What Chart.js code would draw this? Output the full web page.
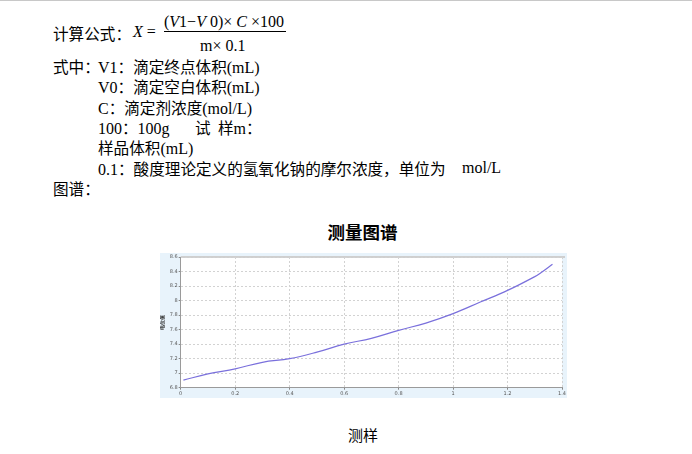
<!DOCTYPE html>
<html>
<head>
<meta charset="utf-8">
<script src="https://cdn.jsdelivr.net/npm/chart.js"></script>
<style>
  body { margin: 0; width: 692px; height: 454px; background: #fff; position: relative; overflow: hidden;
         font-family: "Noto Sans CJK SC", sans-serif; font-size: 15.6px; color: #000; }
  .topline { position: absolute; left: 0; top: 0; width: 692px; height: 1px; background: #c8c8c8; }
  .t { position: absolute; line-height: 20px; white-space: pre; }
  .l { font-family: "Liberation Serif", serif; font-size: 16px; }
  .i { font-style: italic; }
  .frac { position: absolute; left: 164px; top: 31px; width: 122px; height: 1px; background: #000; }
  #box { position: absolute; left: 160px; top: 253px; width: 407px; height: 145px; background: #e8f3fb; }
  .title { position: absolute; left: 0; width: 725px; text-align: center; font-weight: bold; font-size: 17.5px; }
</style>
</head>
<body>
<div class="topline"></div>

<div class="t" style="left:53px; top:23px;">计算公式：</div>
<div class="t l" style="left:133px; top:22px;"><span class="i">X</span> =</div>
<div class="t l" style="left:164px; top:12px;">(<span class="i">V</span>1−<span class="i">V</span> 0)× <span class="i">C</span> ×100</div>
<div class="frac"></div>
<div class="t l" style="left:200px; top:36px;">m× 0.1</div>

<div class="t" style="left:53px; top:56px;">式中：</div>
<div class="t" style="left:98px; top:56px;"><span class="l">V1</span>：滴定终点体积<span class="l">(mL)</span></div>
<div class="t" style="left:98px; top:76px;"><span class="l">V0</span>：滴定空白体积<span class="l">(mL)</span></div>
<div class="t" style="left:98px; top:97px;"><span class="l">C</span>：滴定剂浓度<span class="l">(mol/L)</span></div>
<div class="t" style="left:98px; top:117px;"><span class="l">100</span>：<span class="l">100g</span></div>
<div class="t" style="left:195px; top:117px;">试</div>
<div class="t" style="left:218px; top:117px;">样<span class="l">m</span>：</div>
<div class="t" style="left:98px; top:137px;">样品体积<span class="l">(mL)</span></div>
<div class="t" style="left:98px; top:158px;"><span class="l">0.1</span>：酸度理论定义的氢氧化钠的摩尔浓度，单位为</div>
<div class="t l" style="left:462px; top:158px;">mol/L</div>
<div class="t" style="left:53px; top:178px;">图谱：</div>

<div class="title" style="top:219px;">测量图谱</div>
<div id="box"><canvas id="c"></canvas></div>
<div class="t" style="left:348px; top:425px; font-size:15px;">测样</div>

<script>
const xValues = [0.01, 0.1, 0.2, 0.3, 0.4, 0.5, 0.6, 0.7, 0.8, 0.9, 1.0, 1.1, 1.2, 1.3, 1.325, 1.365];
const yValues = [6.905, 6.99, 7.06, 7.15, 7.20, 7.29, 7.40, 7.48, 7.59, 7.69, 7.82, 7.98, 8.14, 8.33, 8.39, 8.50];
const yTicks = [6.8, 7, 7.2, 7.4, 7.6, 7.8, 8, 8.2, 8.4, 8.6];
const xTicks = [0, 0.2, 0.4, 0.6, 0.8, 1, 1.2, 1.4];

const points = xValues.map((x, i) => ({ x: x, y: yValues[i] }));

// white plot area + grey top edge
const plotBg = {
  id: 'plotBg',
  beforeDraw(chart) {
    const a = chart.chartArea, c = chart.ctx;
    c.save();
    c.fillStyle = '#ffffff';
    c.fillRect(a.left, a.top, a.right - a.left, a.bottom - a.top);
    c.fillStyle = '#cfcfcf';
    c.fillRect(a.left, a.top - 1, a.right - a.left + 3, 2);
    c.restore();
  }
};

new Chart(document.getElementById('c'), {
  type: 'line',
  data: {
    datasets: [{
      data: points,
      borderColor: '#7a70dc',
      borderWidth: 1.2,
      pointRadius: 0,
      tension: 0.4,
      fill: false
    }]
  },
  options: {
    responsive: true,
    maintainAspectRatio: false,
    animation: false,
    layout: { padding: { top: 2, right: 2, left: 0, bottom: 0 } },
    plugins: { legend: { display: false }, tooltip: { enabled: false } },
    scales: {
      x: {
        type: 'linear',
        min: 0, max: 1.4,
        afterBuildTicks: s => { s.ticks = xTicks.map(v => ({ value: v })); },
        afterFit: s => { s.height = 10.3; },
        ticks: { font: { size: 5, family: 'DejaVu Sans' }, color: '#555', padding: 1,
                 maxRotation: 0, callback: v => String(v) },
        grid: { color: '#d2d2d2', tickLength: 2, tickColor: '#888' },
        border: { color: '#9a9a9a', dash: [2, 2] }
      },
      y: {
        min: 6.8, max: 8.6,
        afterBuildTicks: s => { s.ticks = yTicks.map(v => ({ value: v })); },
        afterFit: s => { s.width = 20.7; },
        title: { display: true, text: '电位值', font: { size: 5, weight: 'bold' }, color: '#222', padding: 0 },
        ticks: { font: { size: 5, family: 'DejaVu Sans' }, color: '#555', padding: 1,
                 callback: v => String(v) },
        grid: { color: '#d2d2d2', tickLength: 2, tickColor: '#888' },
        border: { color: '#9a9a9a', dash: [2, 2] }
      }
    }
  },
  plugins: [plotBg]
});
</script>
</body>
</html>
